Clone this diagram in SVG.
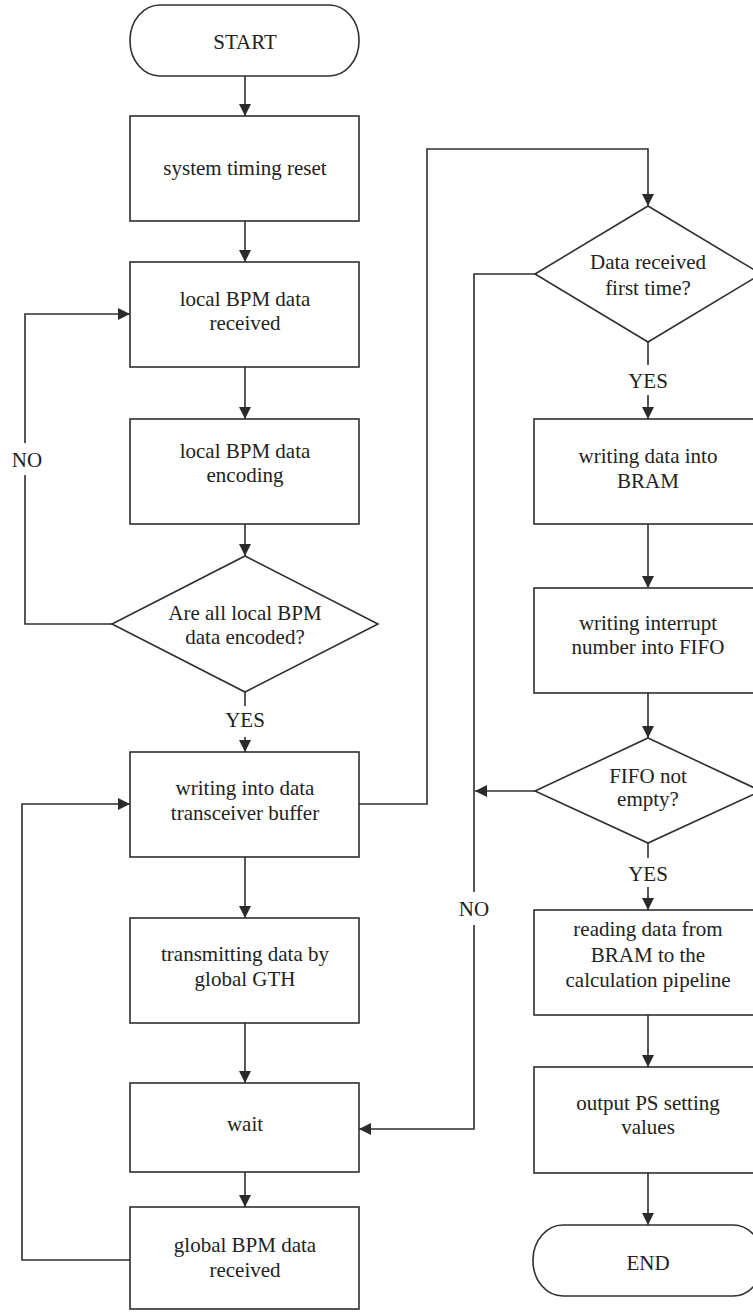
<svg xmlns="http://www.w3.org/2000/svg" width="753" height="1312" viewBox="0 0 753 1312">
<defs>
<marker id="arr" markerUnits="userSpaceOnUse" markerWidth="13" markerHeight="12" refX="12" refY="6" orient="auto">
<path d="M0,0 L12,6 L0,12 z" fill="#2b2b2b"/>
</marker>
<style>
.n{fill:#fff;stroke:#2f2f2f;stroke-width:1.6}
.t{font-family:"Liberation Serif","Times New Roman",serif;font-size:21px;fill:#222;text-anchor:middle}
.c{fill:none;stroke:#2f2f2f;stroke-width:1.6}
.a{marker-end:url(#arr)}
</style>
</defs>
<rect width="753" height="1312" fill="#fff"/>
<g id="connectors">
<path class="c a" d="M245,76 V116"/>
<path class="c a" d="M245,221 V262"/>
<path class="c a" d="M245,367 V419"/>
<path class="c a" d="M245,524 V556"/>
<path class="c" d="M112,624 H25 V475"/>
<path class="c a" d="M25,443 V314 H130"/>
<path class="c" d="M245,692 V706"/>
<path class="c a" d="M245,737 V752"/>
<path class="c a" d="M245,857 V918"/>
<path class="c a" d="M245,1023 V1083"/>
<path class="c a" d="M245,1172 V1207"/>
<path class="c a" d="M130,1260 H22 V804 H130"/>
<path class="c a" d="M359,804 H427 V149 H648 V206"/>
<path class="c" d="M648,342 V365"/>
<path class="c a" d="M648,395 V419"/>
<path class="c" d="M535,274 H474 V892"/>
<path class="c a" d="M474,925 V1129 H359"/>
<path class="c a" d="M648,524 V588"/>
<path class="c a" d="M648,693 V738"/>
<path class="c a" d="M535,791 H475"/>
<path class="c" d="M648,843 V858"/>
<path class="c a" d="M648,887 V910"/>
<path class="c a" d="M648,1015 V1067"/>
<path class="c a" d="M648,1173 V1225"/>
</g>
<g id="labels">
<text class="t" x="27" y="467">NO</text>
<text class="t" x="245" y="727">YES</text>
<text class="t" x="648" y="388">YES</text>
<text class="t" x="648" y="881">YES</text>
<text class="t" x="474" y="916">NO</text>
</g>
<g id="start">
<rect class="n" x="130" y="5" width="229" height="71" rx="30" ry="35"/>
<text class="t" x="245" y="49">START</text>
</g>
<g id="reset">
<rect class="n" x="130" y="116" width="229" height="105"/>
<text class="t" x="245" y="175">system timing reset</text>
</g>
<g id="local-received">
<rect class="n" x="130" y="262" width="229" height="105"/>
<text class="t" x="245" y="306">local BPM data</text>
<text class="t" x="245" y="330">received</text>
</g>
<g id="local-encoding">
<rect class="n" x="130" y="419" width="229" height="105"/>
<text class="t" x="245" y="458">local BPM data</text>
<text class="t" x="245" y="482">encoding</text>
</g>
<g id="all-encoded">
<polygon class="n" points="245,556 378,624 245,692 112,624"/>
<text class="t" x="245" y="620">Are all local BPM</text>
<text class="t" x="245" y="644">data encoded?</text>
</g>
<g id="write-buffer">
<rect class="n" x="130" y="752" width="229" height="105"/>
<text class="t" x="245" y="795">writing into data</text>
<text class="t" x="245" y="820">transceiver buffer</text>
</g>
<g id="transmit">
<rect class="n" x="130" y="918" width="229" height="105"/>
<text class="t" x="245" y="961">transmitting data by</text>
<text class="t" x="245" y="986">global GTH</text>
</g>
<g id="wait">
<rect class="n" x="130" y="1083" width="229" height="89"/>
<text class="t" x="245" y="1131">wait</text>
</g>
<g id="global-received">
<rect class="n" x="130" y="1207" width="229" height="102"/>
<text class="t" x="245" y="1252">global BPM data</text>
<text class="t" x="245" y="1277">received</text>
</g>
<g id="first-time">
<polygon class="n" points="648,206 761,274 648,342 535,274"/>
<text class="t" x="648" y="269">Data received</text>
<text class="t" x="648" y="295">first time?</text>
</g>
<g id="write-bram">
<rect class="n" x="534" y="419" width="229" height="105"/>
<text class="t" x="648" y="463">writing data into</text>
<text class="t" x="648" y="488">BRAM</text>
</g>
<g id="write-fifo">
<rect class="n" x="534" y="588" width="229" height="105"/>
<text class="t" x="648" y="630">writing interrupt</text>
<text class="t" x="648" y="654">number into FIFO</text>
</g>
<g id="fifo-not-empty">
<polygon class="n" points="648,738 761,791 648,843 535,791"/>
<text class="t" x="648" y="783">FIFO not</text>
<text class="t" x="648" y="806">empty?</text>
</g>
<g id="read-bram">
<rect class="n" x="534" y="910" width="229" height="105"/>
<text class="t" x="648" y="936">reading data from</text>
<text class="t" x="648" y="962">BRAM to the</text>
<text class="t" x="648" y="987">calculation pipeline</text>
</g>
<g id="output">
<rect class="n" x="534" y="1067" width="229" height="106"/>
<text class="t" x="648" y="1110">output PS setting</text>
<text class="t" x="648" y="1134">values</text>
</g>
<g id="end">
<rect class="n" x="533" y="1225" width="230" height="71" rx="30" ry="35"/>
<text class="t" x="648" y="1270">END</text>
</g>
</svg>
